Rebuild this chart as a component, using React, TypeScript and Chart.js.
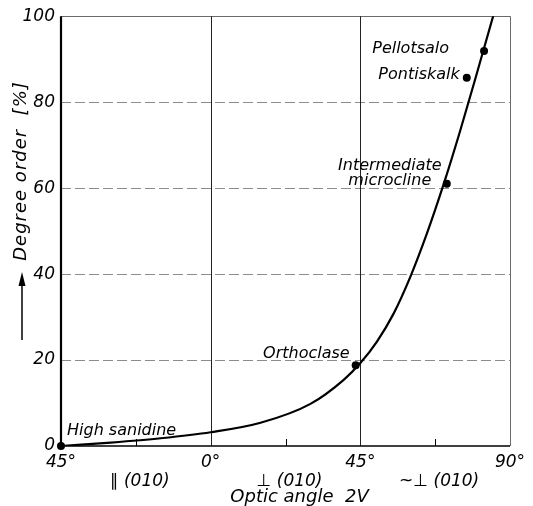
import React, { useEffect, useRef } from 'react';
import { Chart, registerables } from 'chart.js';

Chart.register(...registerables);

// ---- data ----
const curveAngles = [-45, -30, -15, 0, 15, 30, 40, 45, 50, 55, 60, 65, 70, 75, 80, 85, 88];
const curveOrder = [0, 0.8, 1.8, 3.2, 5.4, 9.8, 15.4, 19.3, 24.3, 30.8, 39.3, 49.4, 60.8, 73.3, 86.6, 100.2, 108.5];

const sampleNames = ['High sanidine', 'Orthoclase', 'Intermediate microcline', 'Pontiskalk', 'Pellotsalo'];
const sampleAngles = [-45, 43.6, 71, 77, 82.2];
const sampleOrder = [0, 18.8, 61, 85.7, 91.9];

const xTickValues = [-45, 0, 45, 90];
const xTickLabels = ['45°', '0°', '45°', '90°'];
const xMinorTicks = [-22.5, 22.5, 67.5];
const yTickValues = [0, 20, 40, 60, 80, 100];
const orientationLabels = ['∥ (010)', '⊥ (010)', '~⊥ (010)'];
const xTitle = 'Optic angle  2V';
const yTitle = 'Degree order  [%]';

// ---- styling / placement ----
const FONT = '"DejaVu Sans", sans-serif';
const labelPlacement = [
  { dx: 6, dy: -11, align: 'left' },
  { dx: -6, dy: -7, align: 'right' },
  { dx: -57, dy: -14, align: 'center' },
  { dx: -7, dy: 1, align: 'right' },
  { dx: -35, dy: 2, align: 'right' },
];

const framePlugin = {
  id: 'frame',
  beforeDatasetsDraw(chart: any) {
    const { ctx, chartArea, scales } = chart;
    const { left, right, top, bottom } = chartArea;
    const x = scales.x;
    const y = scales.y;
    ctx.save();
    // horizontal dashed grid lines
    ctx.lineWidth = 1;
    ctx.strokeStyle = '#8c8c8c';
    ctx.setLineDash([10, 4]);
    yTickValues.slice(1, -1).forEach((v) => {
      const py = Math.round(y.getPixelForValue(v)) + 0.5;
      ctx.beginPath();
      ctx.moveTo(left, py);
      ctx.lineTo(right, py);
      ctx.stroke();
    });
    ctx.setLineDash([]);
    // top border
    ctx.strokeStyle = '#6a6a6a';
    ctx.beginPath();
    ctx.moveTo(left, Math.round(top) + 0.5);
    ctx.lineTo(right, Math.round(top) + 0.5);
    ctx.stroke();
    // right border
    ctx.beginPath();
    ctx.moveTo(Math.round(right) + 0.5, top);
    ctx.lineTo(Math.round(right) + 0.5, bottom);
    ctx.stroke();
    // vertical grid lines at 0 and 45
    ctx.strokeStyle = '#222';
    xTickValues.slice(1, -1).forEach((v) => {
      const px = Math.round(x.getPixelForValue(v)) + 0.5;
      ctx.beginPath();
      ctx.moveTo(px, top);
      ctx.lineTo(px, bottom);
      ctx.stroke();
    });
    // minor ticks
    ctx.strokeStyle = '#000';
    xMinorTicks.forEach((v) => {
      const px = Math.round(x.getPixelForValue(v)) + 0.5;
      ctx.beginPath();
      ctx.moveTo(px, bottom);
      ctx.lineTo(px, bottom - 7);
      ctx.stroke();
    });
    // axes
    ctx.lineWidth = 1.6;
    ctx.beginPath();
    ctx.moveTo(left, bottom);
    ctx.lineTo(right, bottom);
    ctx.stroke();
    ctx.lineWidth = 2.2;
    ctx.beginPath();
    ctx.moveTo(left, top);
    ctx.lineTo(left, bottom + 1);
    ctx.stroke();
    ctx.restore();
  },
  afterDraw(chart: any) {
    const { ctx, chartArea, scales } = chart;
    const x = scales.x;
    const y = scales.y;
    ctx.save();
    ctx.fillStyle = '#000';
    // sample labels
    ctx.font = `italic 16px ${FONT}`;
    ctx.textBaseline = 'alphabetic';
    sampleNames.forEach((name, i) => {
      const p = labelPlacement[i];
      const px = x.getPixelForValue(sampleAngles[i]) + p.dx;
      const py = y.getPixelForValue(sampleOrder[i]) + p.dy;
      ctx.textAlign = p.align;
      const lines = name === 'Intermediate microcline' ? name.split(' ') : [name];
      lines.forEach((ln, j) => ctx.fillText(ln, px, py + j * 15));
    });
    // orientation labels under the x axis
    ctx.font = `italic 17px ${FONT}`;
    ctx.textAlign = 'center';
    orientationLabels.forEach((lab, i) => {
      const mid = (xTickValues[i] + xTickValues[i + 1]) / 2;
      ctx.fillText(lab, x.getPixelForValue(mid) + 4, 486);
    });
    // x title
    ctx.font = `italic 18px ${FONT}`;
    ctx.fillText(xTitle, (chartArea.left + chartArea.right) / 2 + 14, 502);
    // y title (rotated)
    ctx.save();
    ctx.translate(26, 171);
    ctx.rotate(-Math.PI / 2);
    ctx.textAlign = 'center';
    try {
      (ctx as any).letterSpacing = '1px';
    } catch (e) {
      /* ignore */
    }
    ctx.fillText(yTitle, 0, 0);
    ctx.restore();
    // arrow
    ctx.strokeStyle = '#000';
    ctx.lineWidth = 1.5;
    ctx.beginPath();
    ctx.moveTo(22, 340);
    ctx.lineTo(22, 284);
    ctx.stroke();
    ctx.beginPath();
    ctx.moveTo(22, 272);
    ctx.lineTo(18.5, 286);
    ctx.lineTo(25.5, 286);
    ctx.closePath();
    ctx.fill();
    ctx.restore();
  },
};

export default function App() {
  const ref = useRef<HTMLCanvasElement | null>(null);
  useEffect(() => {
    document.body.style.margin = '0';
    const canvas = ref.current;
    if (!canvas) return;
    const tickFont = { family: FONT, size: 17, style: 'italic' as const };
    const chart = new Chart(canvas, {
      type: 'line',
      data: {
        datasets: [
          {
            type: 'line',
            data: curveAngles.map((a, i) => ({ x: a, y: curveOrder[i] })),
            borderColor: '#000',
            borderWidth: 2.2,
            pointRadius: 0,
            fill: false,
            cubicInterpolationMode: 'monotone',
          },
          {
            type: 'scatter',
            data: sampleAngles.map((a, i) => ({ x: a, y: sampleOrder[i] })),
            pointRadius: 4,
            pointBackgroundColor: '#000',
            pointBorderWidth: 0,
            showLine: false,
            clip: false,
          } as any,
        ],
      },
      options: {
        animation: false,
        responsive: false,
        devicePixelRatio: 1,
        layout: { padding: { top: 16, right: 23, left: 0, bottom: 0 } },
        plugins: { legend: { display: false }, tooltip: { enabled: false } },
        scales: {
          x: {
            type: 'linear',
            min: -45,
            max: 90,
            grid: { display: false, drawTicks: false },
            border: { display: false },
            ticks: {
              stepSize: 45,
              autoSkip: false,
              maxRotation: 0,
              padding: 6,
              color: '#000',
              font: tickFont,
              callback: (v: any) => {
                const k = xTickValues.indexOf(Number(v));
                return k >= 0 ? xTickLabels[k] : '';
              },
            },
            afterFit: (s: any) => {
              s.height = 60;
            },
          },
          y: {
            type: 'linear',
            min: 0,
            max: 100,
            grid: { display: false, drawTicks: false },
            border: { display: false },
            ticks: {
              stepSize: 20,
              padding: 6,
              color: '#000',
              font: tickFont,
            },
            afterFit: (s: any) => {
              s.width = 61;
            },
          },
        },
      } as any,
      plugins: [framePlugin],
    });
    return () => chart.destroy();
  }, []);
  return (
    <div style={{ width: 533, height: 506, background: '#fff' }}>
      <canvas ref={ref} width={533} height={506} style={{ display: 'block' }} />
    </div>
  );
}
